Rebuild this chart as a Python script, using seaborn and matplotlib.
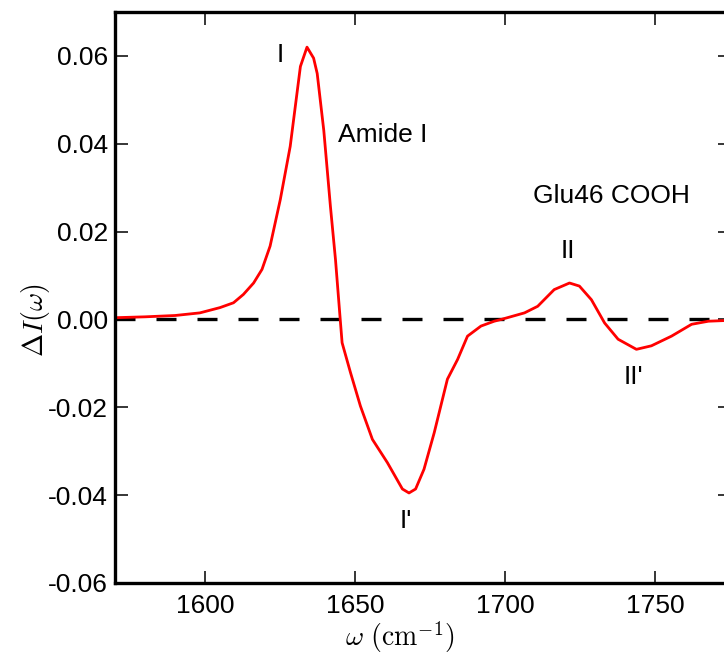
import numpy as np
import pandas as pd
import matplotlib
matplotlib.use("Agg")
import matplotlib.pyplot as plt
import matplotlib.ticker as ticker
import seaborn as sns

# Difference spectrum
wavenumber = [1570, 1580, 1590, 1598.3, 1605.0, 1609.5, 1612.8, 1616.2, 1619.0,
              1621.7, 1625.1, 1628.4, 1631.8, 1634.0, 1636.2, 1637.4, 1639.6,
              1641.8, 1643.5, 1644.9, 1645.7, 1648.5, 1651.8, 1655.8, 1660.8,
              1665.8, 1668.0, 1670.2, 1673.0, 1676.4, 1680.8, 1684.2, 1687.5,
              1692.0, 1696.4, 1698.7, 1706.5, 1710.9, 1716.4, 1721.5, 1724.8,
              1728.8, 1733.2, 1737.7, 1743.8, 1748.8, 1755.5, 1762.2, 1767.8,
              1775.0]
delta_i = [0.0004, 0.0006, 0.0009, 0.0015, 0.0027, 0.0038, 0.0057, 0.0083, 0.0114,
           0.0167, 0.0273, 0.0394, 0.0576, 0.0620, 0.0595, 0.0560, 0.0430,
           0.0258, 0.0136, 0.0015, -0.0053, -0.0121, -0.0197, -0.0273, -0.0326,
           -0.0386, -0.0395, -0.0386, -0.0341, -0.0258, -0.0136, -0.0091, -0.0038,
           -0.0015, -0.0004, 0.0000, 0.0015, 0.0030, 0.0068, 0.0083, 0.0076,
           0.0045, -0.0008, -0.0045, -0.0068, -0.0060, -0.0038, -0.0011, -0.0004,
           -0.0002]

x_ticks = [1600, 1650, 1700, 1750]
y_ticks = [-0.06, -0.04, -0.02, 0.00, 0.02, 0.04, 0.06]

# Peak labels: text, x, y (data coordinates)
peak_labels = ["I", "Amide I", "Glu46 COOH", "II", "I'", "II'"]
label_x = [1625.1, 1659.2, 1735.5, 1721.1, 1666.9, 1742.8]
label_y = [0.0602, 0.0420, 0.0280, 0.0155, -0.0459, -0.0132]

df = pd.DataFrame({"w": wavenumber, "dI": delta_i})

sns.set_style("ticks")
plt.rcParams["font.family"] = ["Liberation Sans", "DejaVu Sans"]
plt.rcParams["mathtext.fontset"] = "cm"
plt.rcParams["axes.unicode_minus"] = False
for key in ["text.color", "axes.labelcolor", "xtick.color", "ytick.color", "axes.edgecolor"]:
    plt.rcParams[key] = "black"

fig = plt.figure(figsize=(7.24, 6.54), dpi=100)
W, H = 724, 654
ax = fig.add_axes([115 / W, (H - 583) / H, (730 - 115) / W, (583 - 12) / H])

# zero line
ax.axhline(0, color="black", linewidth=2.4, linestyle=(0, (6, 6.3)), zorder=1)

sns.lineplot(data=df, x="w", y="dI", color="#ff0000", linewidth=2.0, ax=ax, zorder=2)

for txt, tx, ty in zip(peak_labels, label_x, label_y):
    ax.text(tx, ty, txt, fontsize=19, ha="center", va="center", color="black")

ax.set_xlim(1570, 1775)
ax.set_ylim(-0.06, 0.07)
ax.set_xticks(x_ticks)
ax.set_yticks(y_ticks)
ax.yaxis.set_major_formatter(ticker.FormatStrFormatter("%.2f"))
ax.tick_params(axis="both", direction="in", length=9, width=1.1, labelsize=19,
               top=True, right=True, color="black", labelcolor="black")
ax.tick_params(axis="x", pad=8)
ax.tick_params(axis="y", pad=5)
for s in ax.spines.values():
    s.set_linewidth(2.4)
    s.set_color("black")

ax.set_xlabel(r"$\omega\ (\mathrm{cm}^{-1})$", fontsize=20)
ax.set_ylabel(r"$\Delta I(\omega)$", fontsize=20)
ax.xaxis.set_label_coords((400 - 115) / 615, (583 - 619) / 571)
ax.yaxis.set_label_coords((52 - 115) / 615, 0.5 - (320 - 297.5) / 571)

fig.savefig("out.png", dpi=100)
